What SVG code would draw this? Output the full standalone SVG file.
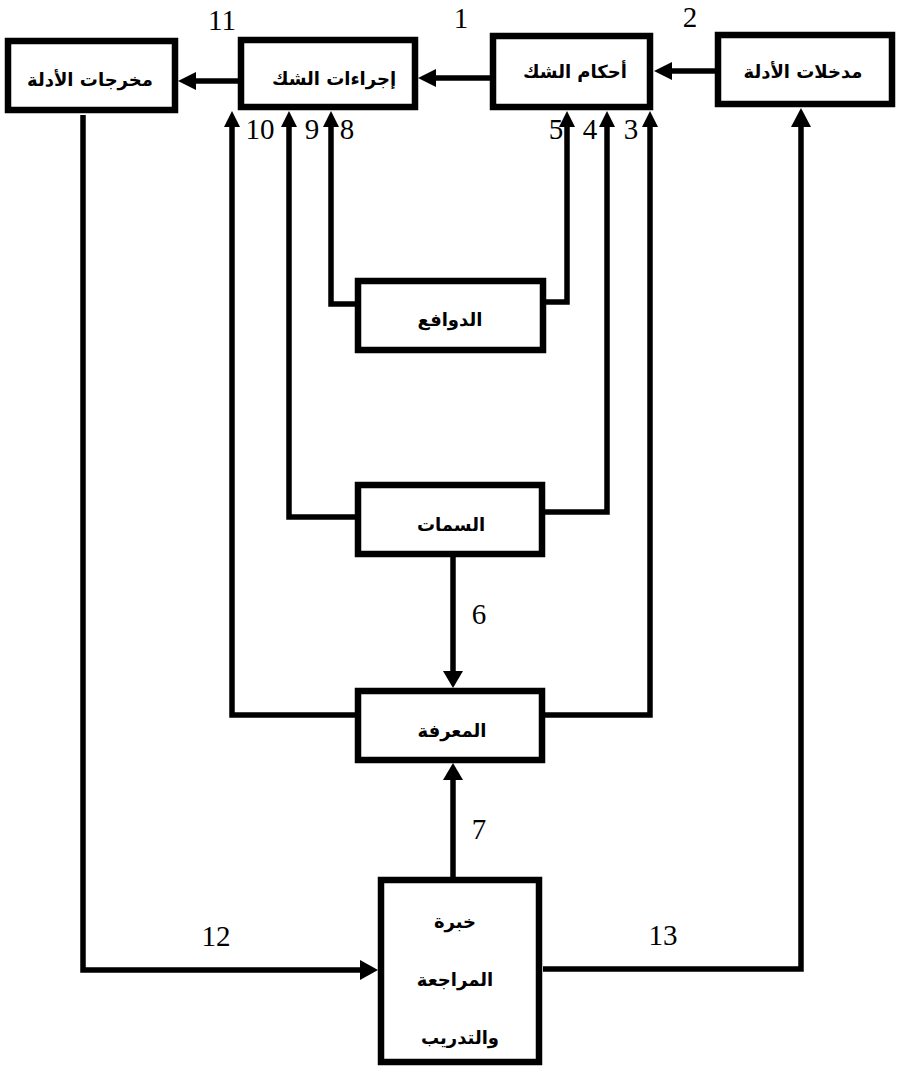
<svg xmlns="http://www.w3.org/2000/svg" width="897" height="1066" viewBox="0 0 897 1066">
<style>
.box{fill:#fff;stroke:#000;stroke-width:6.5}
.ar{font-family:"DejaVu Sans",sans-serif;font-weight:bold;font-size:18px;text-anchor:middle;fill:#000}
.num{font-family:"Liberation Serif",serif;font-size:29px;text-anchor:middle;fill:#000}
.ln{fill:none;stroke:#000;stroke-width:5.5;stroke-linejoin:miter;stroke-linecap:butt}
.ah{fill:#000}
</style>
<rect width="897" height="1066" fill="#fff"/>
<g id="connectors">
<path class="ln" d="M238 81 H192"/>
<polygon class="ah" points="178,81 196,72 196,90"/>
<path class="ln" d="M490 78 H432"/>
<polygon class="ah" points="418,78 436,69 436,87"/>
<path class="ln" d="M715 71 H668"/>
<polygon class="ah" points="654,71 672,62 672,80"/>
<path class="ln" d="M355 715 H232 V124"/>
<polygon class="ah" points="232,111 224,127 240,127"/>
<path class="ln" d="M355 517 H289 V124"/>
<polygon class="ah" points="289,111 281,127 297,127"/>
<path class="ln" d="M355 304 H331 V124"/>
<polygon class="ah" points="331,111 323,127 339,127"/>
<path class="ln" d="M545 302 H567 V124"/>
<polygon class="ah" points="567,111 559,127 575,127"/>
<path class="ln" d="M545 512 H607 V124"/>
<polygon class="ah" points="607,111 599,127 615,127"/>
<path class="ln" d="M545 715 H650 V124"/>
<polygon class="ah" points="650,111 642,127 658,127"/>
<path class="ln" d="M453 557 V674"/>
<polygon class="ah" points="453,688 443,671 463,671"/>
<path class="ln" d="M453 878 V777"/>
<polygon class="ah" points="453,763 443,780 463,780"/>
<path class="ln" d="M83 115 V970 H364"/>
<polygon class="ah" points="378,970 360,960 360,980"/>
<path class="ln" d="M543 969 H801 V124"/>
<polygon class="ah" points="801,108 791,127 811,127"/>
</g>
<g id="node-outputs">
<rect class="box" x="8" y="41" width="167" height="69"/>
<text class="ar" x="90" y="86">مخرجات الأدلة</text>
</g>
<g id="node-procedures">
<rect class="box" x="241" y="40" width="174" height="67"/>
<text class="ar" x="334" y="85">إجراءات الشك</text>
</g>
<g id="node-judgments">
<rect class="box" x="493" y="36" width="157" height="71"/>
<text class="ar" x="575" y="78">أحكام الشك</text>
</g>
<g id="node-inputs">
<rect class="box" x="718" y="35" width="174" height="69"/>
<text class="ar" x="803" y="78">مدخلات الأدلة</text>
</g>
<g id="node-motives">
<rect class="box" x="358" y="281" width="185" height="69"/>
<text class="ar" x="450" y="326">الدوافع</text>
</g>
<g id="node-traits">
<rect class="box" x="358" y="485" width="184" height="69"/>
<text class="ar" x="451" y="531">السمات</text>
</g>
<g id="node-knowledge">
<rect class="box" x="358" y="691" width="184" height="69"/>
<text class="ar" x="452" y="737">المعرفة</text>
</g>
<g id="node-experience">
<rect class="box" x="381" y="880" width="158" height="182"/>
<text class="ar" x="455" y="928">خبرة</text>
<text class="ar" x="455" y="986">المراجعة</text>
<text class="ar" x="460" y="1044">والتدريب</text>
</g>
<g id="labels">
<text class="num" x="222" y="30">11</text>
<text class="num" x="461" y="28">1</text>
<text class="num" x="690" y="27">2</text>
<text class="num" x="260" y="139">10</text>
<text class="num" x="312" y="139">9</text>
<text class="num" x="347" y="139">8</text>
<text class="num" x="556" y="139">5</text>
<text class="num" x="590" y="139">4</text>
<text class="num" x="631" y="139">3</text>
<text class="num" x="479" y="624">6</text>
<text class="num" x="479" y="839">7</text>
<text class="num" x="216" y="946">12</text>
<text class="num" x="663" y="945">13</text>
</g>
</svg>
